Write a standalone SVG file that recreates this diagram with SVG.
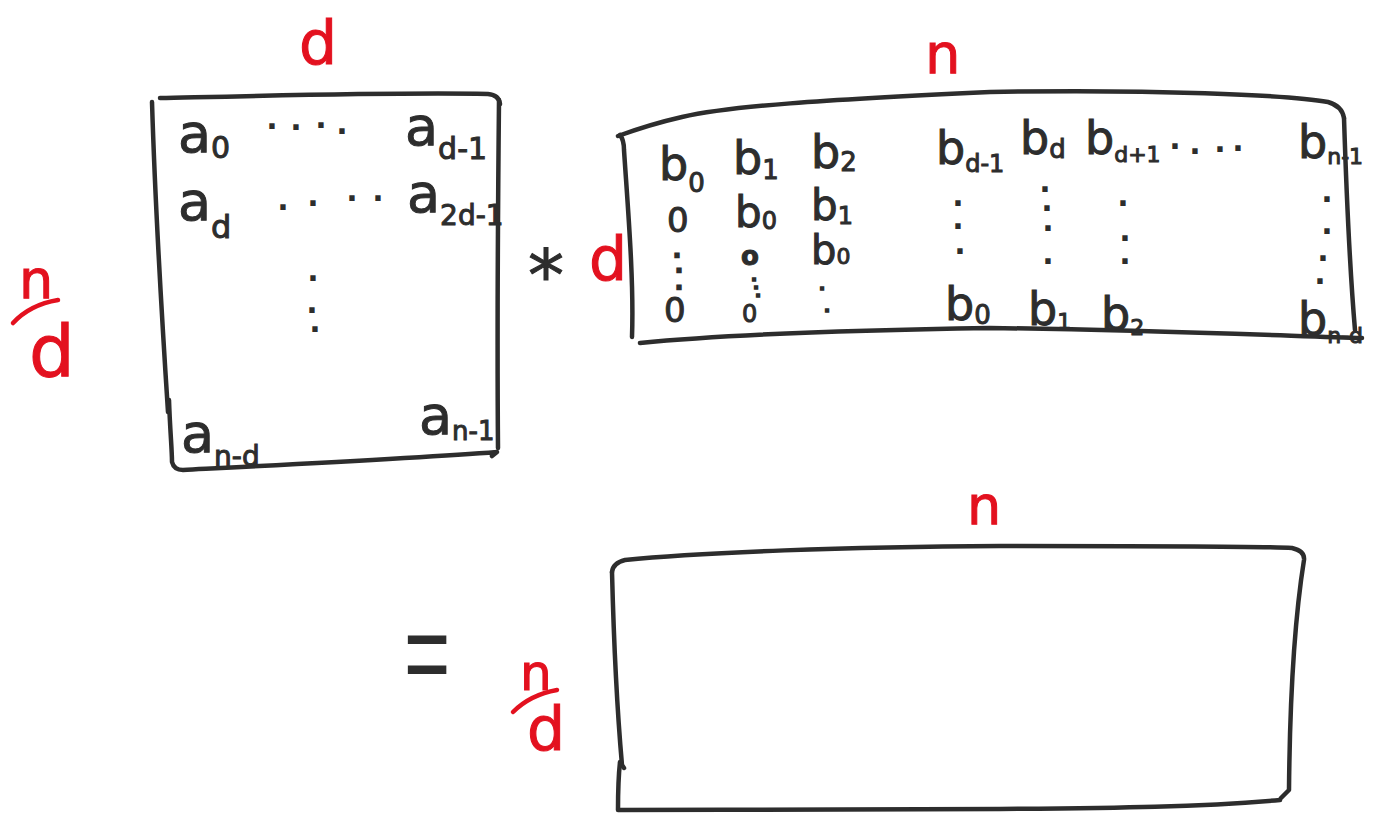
<svg xmlns="http://www.w3.org/2000/svg" width="1392" height="813" viewBox="0 0 1392 813">
<style>
.box{fill:none;stroke:#2d2d2d;stroke-width:4.5;stroke-linecap:round;stroke-linejoin:round}
.rline{fill:none;stroke:#e3111f;stroke-width:4.5;stroke-linecap:round}
.ink{font-family:"DejaVu Sans",sans-serif;fill:#2d2d2d;stroke:#2d2d2d;stroke-width:1}
.red{font-family:"DejaVu Sans",sans-serif;fill:#e3111f;stroke:#e3111f;stroke-width:1}
.dot{font-family:"DejaVu Sans",sans-serif;fill:#2d2d2d;font-weight:bold;font-size:30px;text-anchor:middle}
.sdot{font-family:"DejaVu Sans",sans-serif;fill:#2d2d2d;stroke:#2d2d2d;stroke-width:1.6;font-weight:bold;font-size:16px;text-anchor:middle}
.mdot{font-family:"DejaVu Sans",sans-serif;fill:#2d2d2d;stroke:#2d2d2d;stroke-width:2.4;font-weight:bold;font-size:17px;text-anchor:middle}
</style>
<rect width="1392" height="813" fill="#ffffff"/>

<g id="matrix-a">
<path class="box" d="M160,98 C250,96 400,92 488,94 Q499,95 500,104"/>
<path class="box" d="M499,100 C498,200 497,330 498,448"/>
<path class="box" d="M152,102 C155,200 162,320 168,412"/>
<path class="box" d="M169,400 C170,430 172,450 172,462 Q174,470 183,470 C300,464 420,458 497,452 L492,456"/>
<text class="ink" font-size="54" x="178" y="152">a<tspan font-size="30" dy="6">0</tspan></text>
<text class="dot" x="272 296 321 342" y="129 130 128 134">....</text>
<text class="ink" font-size="54" x="405" y="145">a<tspan font-size="30" dy="14">d-1</tspan></text>
<text class="ink" font-size="54" x="178" y="220">a<tspan font-size="32" dy="18">d</tspan></text>
<text class="dot" x="283 313 352 378" y="210 206 201 201">....</text>
<text class="ink" font-size="54" x="407" y="212">a<tspan font-size="28" dy="13">2d-1</tspan></text>
<text class="dot" x="313 312 315" y="281 313 332">...</text>
<text class="ink" font-size="54" x="181" y="452">a<tspan font-size="28" dy="14">n-d</tspan></text>
<text class="ink" font-size="54" x="419" y="434">a<tspan font-size="26" dy="6">n-1</tspan></text>
</g>

<g id="matrix-b">
<path class="box" d="M618,136 C640,128 660,122 682,117 C730,106 820,100 990,92 C1150,89 1290,95 1328,102 Q1342,106 1344,118"/>
<path class="box" d="M620,135 Q624,140 624,150 C628,210 634,280 632,337"/>
<path class="box" d="M640,343 C720,335 860,330 990,328 C1150,330 1290,336 1362,338"/>
<path class="box" d="M1344,118 C1346,180 1349,260 1355,330"/>
<text class="ink" font-size="46" x="659" y="180">b<tspan font-size="26" dy="12">0</tspan></text>
<text class="ink" font-size="46" x="733" y="174">b<tspan font-size="26" dy="5">1</tspan></text>
<text class="ink" font-size="46" x="811" y="168">b<tspan font-size="26" dy="3">2</tspan></text>
<text class="ink" font-size="46" x="936" y="164">b<tspan font-size="24" dy="8">d-1</tspan></text>
<text class="ink" font-size="46" x="1020" y="154">b<tspan font-size="26" dy="4">d</tspan></text>
<text class="ink" font-size="46" x="1085" y="154">b<tspan font-size="22" dy="8">d+1</tspan></text>
<text class="dot" x="1175 1195 1220 1238" y="149 154 152 151">....</text>
<text class="ink" font-size="46" x="1298" y="158">b<tspan font-size="22" dy="6">n-1</tspan></text>

<text class="ink" font-size="34" x="667" y="232">0</text>
<text class="ink" font-size="42" x="735" y="227">b<tspan font-size="24" dy="2">0</tspan></text>
<text class="ink" font-size="42" x="811" y="220">b<tspan font-size="24" dy="4">1</tspan></text>

<text class="mdot" x="677 679 679" y="257 272 289">...</text>
<text class="ink" font-size="26" font-weight="bold"><tspan x="741" y="265">o</tspan><tspan class="sdot" x="754 756 758" y="281 289 297">...</tspan></text>
<text class="ink" font-size="40" x="811" y="264">b<tspan font-size="22">0</tspan></text>

<text class="ink" font-size="34" x="664" y="322">0</text>
<text class="ink" font-size="24" x="742" y="322">0</text>
<text class="sdot" x="822 827" y="290 312">..</text>
<text class="ink" font-size="46" x="945" y="320">b<tspan font-size="26" dy="4">0</tspan></text>
<text class="ink" font-size="46" x="1028" y="325">b<tspan font-size="22" dy="4">1</tspan></text>
<text class="ink" font-size="46" x="1101" y="330">b<tspan font-size="22" dy="5">2</tspan></text>
<text class="ink" font-size="46" x="1298" y="335">b<tspan font-size="22" dy="8">n-d</tspan></text>

<text class="dot" x="958 958 960" y="206 229 254">...</text>
<text class="dot" x="1045 1047 1048 1048" y="192 211 231 264">....</text>
<text class="dot" x="1123 1125 1125" y="206 241 264">...</text>
<text class="dot" x="1327 1327 1323 1320" y="202 234 261 284">....</text>
</g>

<g id="matrix-result">
<path class="box" d="M612,572 Q613,563 625,560 C700,552 850,547 1000,546 C1150,546 1260,546 1292,548 Q1305,551 1304,560 C1296,610 1290,680 1289,790 L1281,798"/>
<path class="box" d="M612,572 C614,650 618,720 622,765 L624,768"/>
<path class="box" d="M620,762 C618,780 618,800 618,810 C750,810 900,809 1000,809 C1120,808 1200,807 1280,800"/>
</g>

<g id="labels">
<text class="red" font-size="60" x="299" y="64">d</text>
<text class="red" font-size="56" x="925" y="73">n</text>
<text class="red" font-size="54" x="967" y="524">n</text>
<text class="red" font-size="54" x="19" y="298">n</text>
<path class="rline" d="M13,323 C25,310 40,303 58,300"/>
<text class="red" font-size="72" x="29" y="376">d</text>
<text class="ink" font-size="72" x="528" y="300">*</text>
<text class="red" font-size="60" x="589" y="280">d</text>
<text font-family="Liberation Sans, sans-serif" fill="#2d2d2d" font-size="72" transform="translate(404,694) scale(1.1,1.65)">=</text>
<text class="red" font-size="50" x="520" y="690">n</text>
<path class="rline" d="M513,712 C525,700 540,693 557,690"/>
<text class="red" font-size="60" x="527" y="750">d</text>
</g>
</svg>
